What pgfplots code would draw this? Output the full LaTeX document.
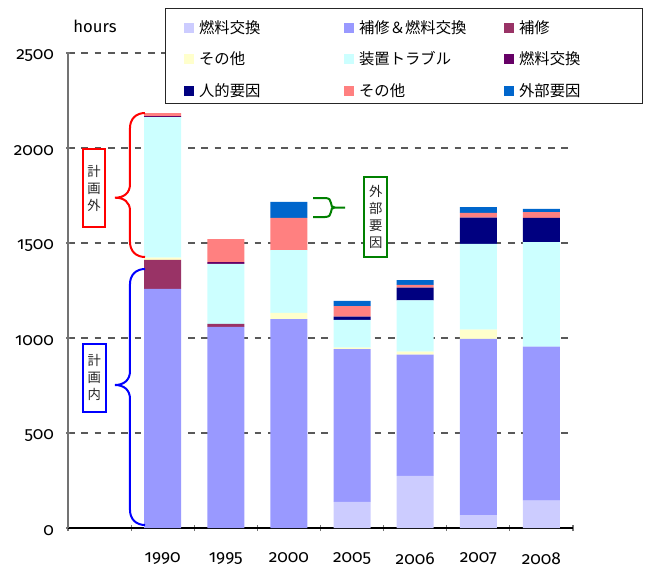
\documentclass[border=0pt]{standalone}
\usepackage{fontspec}
\setmainfont{Fira Sans}[Numbers=OldStyle]
\newfontfamily\cjk{Noto Sans CJK JP}
\usepackage{pgfplots}
\usepackage{pgfplotstable}
\pgfplotsset{compat=1.18}

\definecolor{cFuel}{HTML}{CCCCFF}
\definecolor{cRepFuel}{HTML}{9999FF}
\definecolor{cRepair}{HTML}{993366}
\definecolor{cOtherA}{HTML}{FFFFCC}
\definecolor{cTrouble}{HTML}{CCFFFF}
\definecolor{cFuelB}{HTML}{660066}
\definecolor{cHuman}{HTML}{000080}
\definecolor{cOtherB}{HTML}{FF8080}
\definecolor{cExternal}{HTML}{0066CC}
\definecolor{cPlanGreen}{HTML}{008000}

% outage hours by cause, stacked bottom to top
\pgfplotstableread{
x light repfuel repair otherA trouble fuelB human otherB external
1   0  1258  153  12  740   5    0   16   0
2   0  1058   17   0  315  10    0  121   0
3   0  1100    0  32  331   0    0  169  84
4 137   805    0   7  146   0   17   56  27
5 274   638    0  16  270   0   67   14  26
6  68   927    0  49  451   0  138   25  31
7 144   810    0   0  550   0  128   31  16
}\hours

\pgfplotsset{
  sq/.style={fill=#1, draw=none,
    legend image code/.code={\fill[#1] (0pt,-6.25pt) rectangle (7.5pt,1.25pt);}},
}

\begin{document}
\begin{tikzpicture}
\useasboundingbox (-51pt,-30.75pt) rectangle (436.5pt,396pt);
\begin{axis}[
  scale only axis, width=378.75pt, height=356.25pt,
  xmin=-0.5, xmax=7.5, ymin=0, ymax=2500,
  ybar stacked, bar width=0.586,
  axis lines=left, axis line style={-},
  x axis line style={black, line width=0.8pt},
  y axis line style={black!55, line width=0.8pt},
  xtick={1,...,7}, xticklabels={1990,1995,2000,2005,2006,2007,2008},
  major x tick style={draw=none},
  minor xtick={-0.5,0.5,...,7.5},
  minor x tick style={black!55, line width=0.8pt}, minor tick length=4.5pt,
  ytick={0,500,...,2500}, yticklabels={0,500,1000,1500,2000,2500},
  major tick length=3pt, y tick style={black!55, line width=0.8pt},
  ymajorgrids,
  grid style={black!65, line width=0.9pt, dash pattern=on 5pt off 5pt},
  tick label style={font=\fontsize{13}{15}\selectfont, text=black},
  xticklabel style={yshift=-13.5pt},
  yticklabel style={xshift=-5.5pt, yshift=-2pt},
  legend columns=3,
  legend cell align=left,
  legend style={at={(0.192,1.0947)}, anchor=north west,
    draw=black!85, line width=0.8pt, fill=white,
    font=\cjk\fontsize{11.5}{13}\selectfont,
    inner xsep=14pt, inner ysep=5.5pt, row sep=10.65pt,
    nodes={inner xsep=3.75pt, inner ysep=0pt, text height=13pt, text depth=0pt},
    /tikz/every even column/.append style={column sep=0pt},
    /tikz/every odd column/.append style={column sep=0pt}},
]
\addplot[sq=cFuel]     table[x=x,y=light]{\hours};
\addlegendentry{\makebox[105pt][l]{燃料交換}}
\addplot[sq=cRepFuel]  table[x=x,y=repfuel]{\hours};
\addlegendentry{\makebox[105pt][l]{補修＆燃料交換}}
\addplot[sq=cRepair]   table[x=x,y=repair]{\hours};
\addlegendentry{\makebox[75pt][l]{補修}}
\addplot[sq=cOtherA]   table[x=x,y=otherA]{\hours};
\addlegendentry{\makebox[105pt][l]{その他}}
\addplot[sq=cTrouble]  table[x=x,y=trouble]{\hours};
\addlegendentry{\makebox[105pt][l]{装置トラブル}}
\addplot[sq=cFuelB]    table[x=x,y=fuelB]{\hours};
\addlegendentry{\makebox[75pt][l]{燃料交換}}
\addplot[sq=cHuman]    table[x=x,y=human]{\hours};
\addlegendentry{\makebox[105pt][l]{人的要因}}
\addplot[sq=cOtherB]   table[x=x,y=otherB]{\hours};
\addlegendentry{\makebox[105pt][l]{その他}}
\addplot[sq=cExternal] table[x=x,y=external]{\hours};
\addlegendentry{\makebox[75pt][l]{外部要因}}
\end{axis}

% braces and labels, laid out on a 0.75pt grid from the top left corner
\begin{scope}[x=0.75pt,y=-0.75pt,shift={(-51pt,396pt)}]
  \node[font=\fontsize{12.5}{14}\selectfont] at (95,26) {hours};
  % unplanned outages
  \draw[red, line width=1.5pt]
    (145,113) .. controls (136,113) and (130,119) .. (130,128)
    -- (130,184) .. controls (130,193) and (124,197.7) .. (115,197.7)
    .. controls (124,197.7) and (130,202) .. (130,211)
    -- (130,242) .. controls (130,251) and (136,257) .. (145,257);
  \node[draw=red, line width=1.5pt, fill=white, minimum width=17pt,
        minimum height=59pt, inner sep=0pt, align=center, text=black!85,
        font=\cjk\fontsize{10}{12.75}\selectfont] at (94,188) {計\\画\\外};
  % planned outages
  \draw[blue, line width=1.5pt]
    (145,269) .. controls (136,269) and (130,275) .. (130,284)
    -- (130,371) .. controls (130,380) and (124,385) .. (115,385)
    .. controls (124,385) and (130,390) .. (130,399)
    -- (130,510) .. controls (130,519) and (136,525) .. (145,525);
  \node[draw=blue, line width=1.5pt, fill=white, minimum width=17.5pt,
        minimum height=51pt, inner sep=0pt, align=center, text=black!85,
        font=\cjk\fontsize{10}{12.75}\selectfont] at (94.3,377.5) {計\\画\\内};
  % external causes
  \draw[cPlanGreen, line width=1.5pt]
    (313,198) -- (325,198) .. controls (329,198) and (331,200) .. (331,203)
    .. controls (331,206) and (332,207.5) .. (335,207.5) -- (345,207.5)
    (335,207.5) .. controls (332,207.5) and (331,209) .. (331,212)
    .. controls (331,215) and (329,217) .. (325,217) -- (313,217);
  \node[draw=cPlanGreen, line width=1.5pt, fill=white, minimum width=17.25pt,
        minimum height=60.5pt, inner sep=0pt, align=center, text=black!85,
        font=\cjk\fontsize{10}{12.75}\selectfont] at (375.8,217) {外\\部\\要\\因};
\end{scope}
\end{tikzpicture}
\end{document}
